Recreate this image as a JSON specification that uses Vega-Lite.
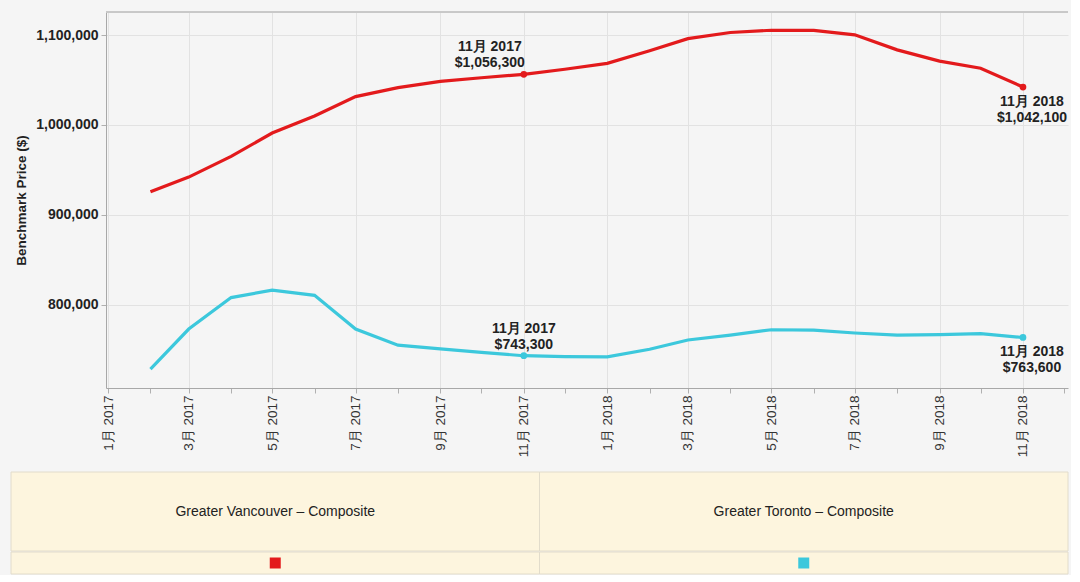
{
  "$schema": "https://vega.github.io/schema/vega-lite/v6.json",
  "background": "#f5f5f5",
  "padding": {"left": 10, "top": 11, "right": 0, "bottom": 0},
  "config": {
    "font": "Liberation Sans",
    "view": {"stroke": null},
    "text": {"font": "Liberation Sans"}
  },
  "datasets": {
    "prices": [
      {"region": "Greater Vancouver – Composite", "date": "2017-02-01", "price": 925600},
      {"region": "Greater Vancouver – Composite", "date": "2017-03-01", "price": 942000},
      {"region": "Greater Vancouver – Composite", "date": "2017-04-01", "price": 965000},
      {"region": "Greater Vancouver – Composite", "date": "2017-05-01", "price": 991000},
      {"region": "Greater Vancouver – Composite", "date": "2017-06-01", "price": 1010000},
      {"region": "Greater Vancouver – Composite", "date": "2017-07-01", "price": 1031500},
      {"region": "Greater Vancouver – Composite", "date": "2017-08-01", "price": 1041500},
      {"region": "Greater Vancouver – Composite", "date": "2017-09-01", "price": 1048500},
      {"region": "Greater Vancouver – Composite", "date": "2017-10-01", "price": 1052500},
      {"region": "Greater Vancouver – Composite", "date": "2017-11-01", "price": 1056300},
      {"region": "Greater Vancouver – Composite", "date": "2017-12-01", "price": 1061900},
      {"region": "Greater Vancouver – Composite", "date": "2018-01-01", "price": 1068500},
      {"region": "Greater Vancouver – Composite", "date": "2018-02-01", "price": 1082500},
      {"region": "Greater Vancouver – Composite", "date": "2018-03-01", "price": 1096000},
      {"region": "Greater Vancouver – Composite", "date": "2018-04-01", "price": 1102800},
      {"region": "Greater Vancouver – Composite", "date": "2018-05-01", "price": 1105300},
      {"region": "Greater Vancouver – Composite", "date": "2018-06-01", "price": 1105200},
      {"region": "Greater Vancouver – Composite", "date": "2018-07-01", "price": 1100200},
      {"region": "Greater Vancouver – Composite", "date": "2018-08-01", "price": 1083500},
      {"region": "Greater Vancouver – Composite", "date": "2018-09-01", "price": 1071000},
      {"region": "Greater Vancouver – Composite", "date": "2018-10-01", "price": 1063000},
      {"region": "Greater Vancouver – Composite", "date": "2018-11-01", "price": 1042100},
      {"region": "Greater Toronto – Composite", "date": "2017-02-01", "price": 728400},
      {"region": "Greater Toronto – Composite", "date": "2017-03-01", "price": 773000},
      {"region": "Greater Toronto – Composite", "date": "2017-04-01", "price": 808000},
      {"region": "Greater Toronto – Composite", "date": "2017-05-01", "price": 816300},
      {"region": "Greater Toronto – Composite", "date": "2017-06-01", "price": 810500},
      {"region": "Greater Toronto – Composite", "date": "2017-07-01", "price": 773000},
      {"region": "Greater Toronto – Composite", "date": "2017-08-01", "price": 755000},
      {"region": "Greater Toronto – Composite", "date": "2017-09-01", "price": 751000},
      {"region": "Greater Toronto – Composite", "date": "2017-10-01", "price": 747000},
      {"region": "Greater Toronto – Composite", "date": "2017-11-01", "price": 743300},
      {"region": "Greater Toronto – Composite", "date": "2017-12-01", "price": 742200},
      {"region": "Greater Toronto – Composite", "date": "2018-01-01", "price": 742000},
      {"region": "Greater Toronto – Composite", "date": "2018-02-01", "price": 750500},
      {"region": "Greater Toronto – Composite", "date": "2018-03-01", "price": 760800},
      {"region": "Greater Toronto – Composite", "date": "2018-04-01", "price": 766300},
      {"region": "Greater Toronto – Composite", "date": "2018-05-01", "price": 772200},
      {"region": "Greater Toronto – Composite", "date": "2018-06-01", "price": 771800},
      {"region": "Greater Toronto – Composite", "date": "2018-07-01", "price": 768600},
      {"region": "Greater Toronto – Composite", "date": "2018-08-01", "price": 766300},
      {"region": "Greater Toronto – Composite", "date": "2018-09-01", "price": 766700},
      {"region": "Greater Toronto – Composite", "date": "2018-10-01", "price": 767800},
      {"region": "Greater Toronto – Composite", "date": "2018-11-01", "price": 763600}
    ],
    "regions": [
      {"region": "Greater Vancouver – Composite"},
      {"region": "Greater Toronto – Composite"}
    ]
  },
  "vconcat": [
    {
      "width": 962,
      "height": 376,
      "data": {"name": "prices", "format": {"parse": {"date": "date"}}},
      "encoding": {
        "x": {
          "field": "date",
          "type": "temporal",
          "scale": {"type": "utc", "domain": [{"year": 2016, "month": 12, "date": 30, "hours": 12, "utc": true}, {"year": 2018, "month": 12, "date": 3, "hours": 22, "utc": true}], "nice": false},
          "axis": {
            "title": null,
            "tickCount": {"interval": "month", "step": 1},
            "labelExpr": "utcmonth(datum.value) % 2 == 0 ? (utcmonth(datum.value) + 1) + '月 ' + utcyear(datum.value) : ''",
            "labelAngle": 270,
            "labelFontSize": 13.5,
            "labelColor": "#333333",
            "labelFlush": false,
            "labelOverlap": false,
            "labelPadding": 2,
            "tickSize": 5,
            "tickColor": "#b0b0b0",
            "domainColor": "#a8a8a8",
            "gridColor": "#e2e2e2",
            "gridOpacity": {"condition": {"test": "utcmonth(datum.value) % 2 == 0", "value": 1}, "value": 0}
          }
        },
        "y": {
          "field": "price",
          "type": "quantitative",
          "scale": {"domain": [707400, 1125600], "nice": false, "zero": false},
          "axis": {
            "title": "Benchmark Price ($)",
            "titleFontSize": 13.5,
            "titleFontWeight": "bold",
            "titleColor": "#222222",
            "titlePadding": 7,
            "values": [800000, 900000, 1000000, 1100000],
            "format": ",d",
            "labelFontSize": 14,
            "labelFontWeight": "bold",
            "labelColor": "#222222",
            "labelPadding": 3,
            "tickSize": 5,
            "tickColor": "#b0b0b0",
            "domainColor": "#a8a8a8",
            "gridColor": "#e2e2e2"
          }
        },
        "color": {
          "field": "region",
          "type": "nominal",
          "scale": {"domain": ["Greater Vancouver – Composite", "Greater Toronto – Composite"], "range": ["#e31a1c", "#3cc8dc"]},
          "legend": null
        }
      },
      "layer": [
        {
          "mark": {"type": "rule", "color": "#c8c8c8", "strokeWidth": 1},
          "encoding": {"y": {"datum": 1125600}, "x": null, "color": null}
        },
        {
          "mark": {"type": "line", "strokeWidth": 3.2}
        },
        {
          "transform": [{"filter": "utcmonth(datum.date) == 10"}],
          "mark": {"type": "circle", "size": 45, "opacity": 1}
        },
        {
          "transform": [
            {"filter": "utcmonth(datum.date) == 10"},
            {"calculate": "utcFormat(datum.date, '%-m月 %Y') + '\\n' + format(datum.price, '$,d')", "as": "label"},
            {"filter": "utcyear(datum.date) == 2017 && datum.region == 'Greater Vancouver – Composite'"}
          ],
          "mark": {"type": "text", "fontSize": 14, "fontWeight": "bold", "color": "#222222", "lineBreak": "\n", "lineHeight": 16, "baseline": "middle", "align": "center", "dx": -34, "dy": -27},
          "encoding": {"text": {"field": "label"}, "color": null}
        },
        {
          "transform": [
            {"filter": "utcmonth(datum.date) == 10"},
            {"calculate": "utcFormat(datum.date, '%-m月 %Y') + '\\n' + format(datum.price, '$,d')", "as": "label"},
            {"filter": "utcyear(datum.date) == 2017 && datum.region == 'Greater Toronto – Composite'"}
          ],
          "mark": {"type": "text", "fontSize": 14, "fontWeight": "bold", "color": "#222222", "lineBreak": "\n", "lineHeight": 16, "baseline": "middle", "align": "center", "dx": 0, "dy": -27},
          "encoding": {"text": {"field": "label"}, "color": null}
        },
        {
          "transform": [
            {"filter": "utcmonth(datum.date) == 10"},
            {"calculate": "utcFormat(datum.date, '%-m月 %Y') + '\\n' + format(datum.price, '$,d')", "as": "label"},
            {"filter": "utcyear(datum.date) == 2018"}
          ],
          "mark": {"type": "text", "fontSize": 14, "fontWeight": "bold", "color": "#222222", "lineBreak": "\n", "lineHeight": 16, "baseline": "middle", "align": "center", "dx": 9, "dy": 15},
          "encoding": {"text": {"field": "label"}, "color": null}
        }
      ]
    },
    {
      "vconcat": [
        {
          "width": 962,
          "height": 79,
          "data": {"name": "regions"},
          "encoding": {
            "x": {"field": "region", "type": "nominal", "sort": null, "axis": null, "scale": {"paddingInner": 0, "paddingOuter": 0, "range": [-95, 962]}}
          },
          "layer": [
            {"mark": {"type": "rect", "fill": "#fdf5de", "stroke": "#e2dccb", "strokeWidth": 1}},
            {"mark": {"type": "text", "fontSize": 14, "color": "#222222", "baseline": "middle"}, "encoding": {"text": {"field": "region"}}}
          ]
        },
        {
          "width": 962,
          "height": 22,
          "data": {"name": "regions"},
          "encoding": {
            "x": {"field": "region", "type": "nominal", "sort": null, "axis": null, "scale": {"paddingInner": 0, "paddingOuter": 0, "range": [-95, 962]}}
          },
          "layer": [
            {"mark": {"type": "rect", "fill": "#fdf5de", "stroke": "#e2dccb", "strokeWidth": 1}},
            {
              "mark": {"type": "square", "size": 121, "filled": true, "opacity": 1},
              "encoding": {
                "color": {
                  "field": "region",
                  "type": "nominal",
                  "scale": {"domain": ["Greater Vancouver – Composite", "Greater Toronto – Composite"], "range": ["#e31a1c", "#3cc8dc"]},
                  "legend": null
                }
              }
            }
          ]
        }
      ],
      "spacing": -3
    }
  ],
  "spacing": 14
}
